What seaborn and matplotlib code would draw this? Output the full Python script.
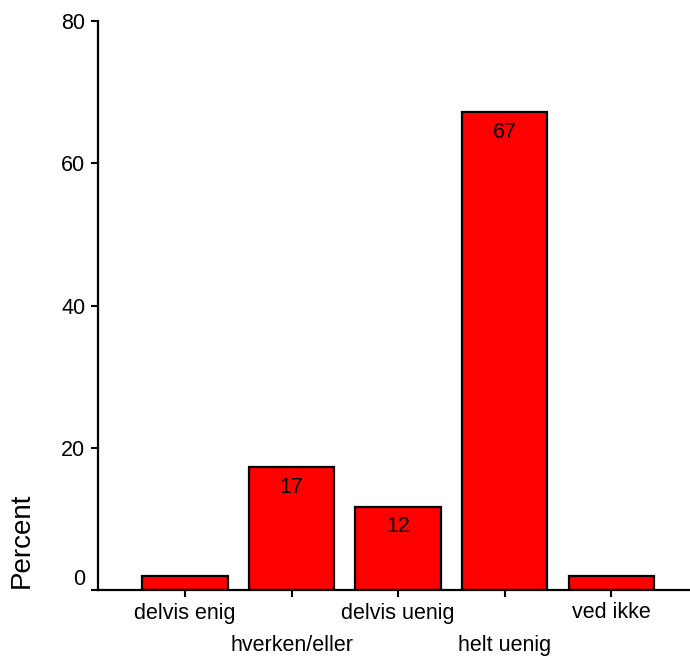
import matplotlib
matplotlib.use("Agg")
import matplotlib.pyplot as plt
import seaborn as sns
import pandas as pd
from matplotlib.ticker import FixedLocator

categories = ["delvis enig", "hverken/eller", "delvis uenig", "helt uenig", "ved ikke"]
percent = [2.0, 17.3, 11.7, 67.2, 2.0]
bar_labels = ["", "17", "12", "67", ""]
y_ticks = [0, 20, 40, 60, 80]

sns.set_style("white")
plt.rcParams["font.family"] = ["Liberation Sans", "DejaVu Sans"]
plt.rcParams["text.color"] = "black"
plt.rcParams["xtick.color"] = "black"
plt.rcParams["ytick.color"] = "black"

FS = 15.5

df = pd.DataFrame({"category": categories, "percent": percent})

fig = plt.figure(figsize=(6.9, 6.59), dpi=100)
ax = fig.add_axes([98 / 690, 1 - 590 / 659, 1 - 98 / 690, (590 - 21) / 659])

sns.barplot(data=df, x="category", y="percent", color="#ff0000", saturation=1,
            edgecolor="black", linewidth=1.6, width=0.8, ax=ax)

ax.bar_label(ax.containers[0], labels=bar_labels, padding=-22, fontsize=FS,
             color="black")

ax.set_xlim(-0.817, 4.74)
ax.set_ylim(0, 80)
ax.set_yticks(y_ticks)
ylabels = ax.set_yticklabels([str(t) for t in y_ticks], fontsize=FS)
ylabels[0].set_va("bottom")

# staggered x labels: even positions on first row, odd on second row
ax.xaxis.set_major_locator(FixedLocator([0, 2, 4]))
ax.set_xticklabels([categories[i] for i in (0, 2, 4)], fontsize=FS)
ax.set_xticks([1, 3], minor=True)
ax.set_xticklabels([categories[i] for i in (1, 3)], minor=True, fontsize=FS)

ax.tick_params(axis="x", which="major", direction="out", length=5, width=1.5,
               pad=4, bottom=True, color="black", labelcolor="black")
ax.tick_params(axis="x", which="minor", direction="out", length=5, width=1.5,
               pad=27.5, bottom=True, color="black", labelcolor="black")
ax.tick_params(axis="y", direction="out", length=5, width=1.5, pad=4,
               left=True, color="black", labelcolor="black")

ax.set_xlabel("")
ax.set_ylabel("")
fig.text(22 / 690, 1 - 540 / 659, "Percent", rotation=90, fontsize=20,
         ha="center", va="center", color="black")

for side in ("top", "right"):
    ax.spines[side].set_visible(False)
for side in ("left", "bottom"):
    ax.spines[side].set_color("black")
    ax.spines[side].set_linewidth(1.6)

fig.savefig("out.png", dpi=100)
